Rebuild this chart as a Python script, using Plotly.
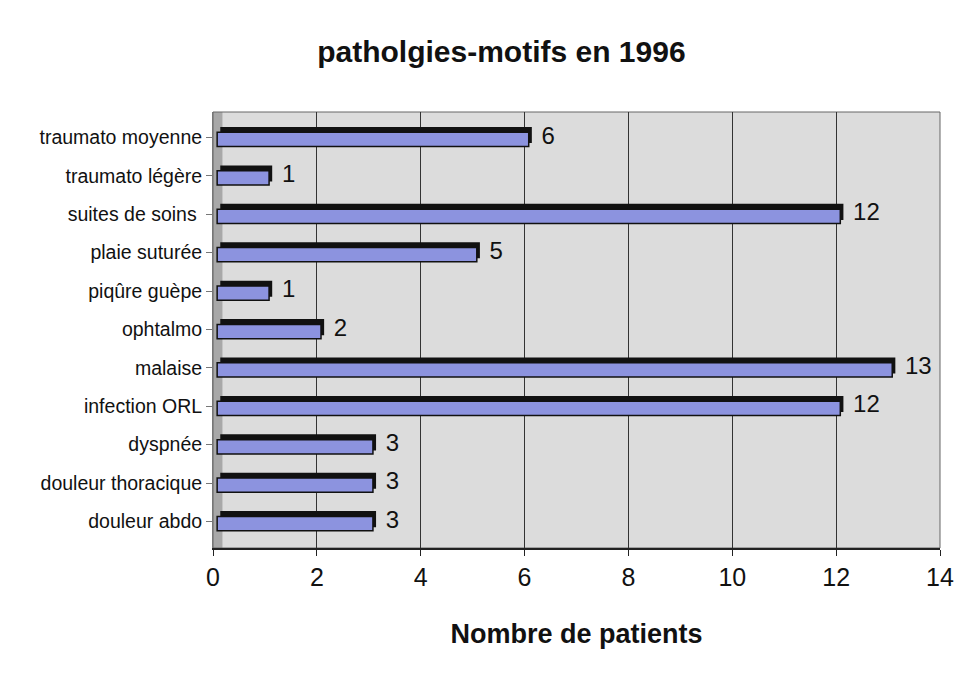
import plotly.graph_objects as go

categories = ["douleur abdo", "douleur thoracique", "dyspnée", "infection ORL", "malaise",
              "ophtalmo", "piqûre guèpe", "plaie suturée", "suites de soins ", "traumato légère",
              "traumato moyenne"]
values = [3, 3, 3, 12, 13, 2, 1, 5, 12, 1, 6]
x_ticks = [0, 2, 4, 6, 8, 10, 12, 14]

FONT = "Liberation Sans, Arial, sans-serif"

fig = go.Figure()
# dark 3D side of the bars (carries the value labels)
fig.add_trace(go.Bar(
    y=categories, x=values, base=0.14, orientation="h",
    width=0.42, offset=-0.15,
    marker=dict(color="#111111", line=dict(width=0)),
    text=[str(v) for v in values], texttemplate=" %{text}", textposition="outside",
    constraintext="none",
    textfont=dict(family=FONT, size=24, color="#111111"),
    cliponaxis=False, hoverinfo="skip", showlegend=False,
))
# front face of the bars
fig.add_trace(go.Bar(
    y=categories, x=values, orientation="h",
    width=0.37, offset=-0.24, base=0.08,
    marker=dict(color="#8c93df", line=dict(color="#111111", width=1.5)),
    showlegend=False,
))

fig.update_layout(
    width=979, height=675,
    barmode="overlay",
    paper_bgcolor="white",
    plot_bgcolor="#dcdcdc",
    margin=dict(l=205, r=47, t=104, b=135),
    title=dict(text="<b>patholgies-motifs en 1996</b>", x=0.504, xanchor="center",
               y=0.935, yanchor="middle",
               font=dict(family=FONT, size=30, color="#111111")),
    font=dict(family=FONT, color="#111111"),
    xaxis=dict(range=[0, 14], tickvals=x_ticks, ticks="outside", ticklen=6,
               tickcolor="#222222", showgrid=True, gridcolor="#333333", gridwidth=1,
               zeroline=False, showline=True, linecolor="#222222", linewidth=2,
               tickfont=dict(size=25), title=dict(text="<b>Nombre de patients</b>",
               font=dict(size=27), standoff=34)),
    yaxis=dict(categoryorder="array", categoryarray=categories, ticks="outside",
               ticklen=6, tickcolor="#777777", showline=True, linecolor="#777777",
               linewidth=1, tickfont=dict(size=19.5), range=[-0.69, 10.66]),
    shapes=[
        # left side wall of the 3D chart
        dict(type="rect", xref="paper", yref="paper", x0=0, x1=0.013, y0=0, y1=1,
             fillcolor="#a8a8a8", line=dict(width=0), layer="below"),
        # back wall outline
        dict(type="rect", xref="paper", yref="paper", x0=0, x1=1, y0=0, y1=1,
             fillcolor="rgba(0,0,0,0)", line=dict(color="#666666", width=1), layer="below"),
    ],
)

fig.write_html("out.html")
